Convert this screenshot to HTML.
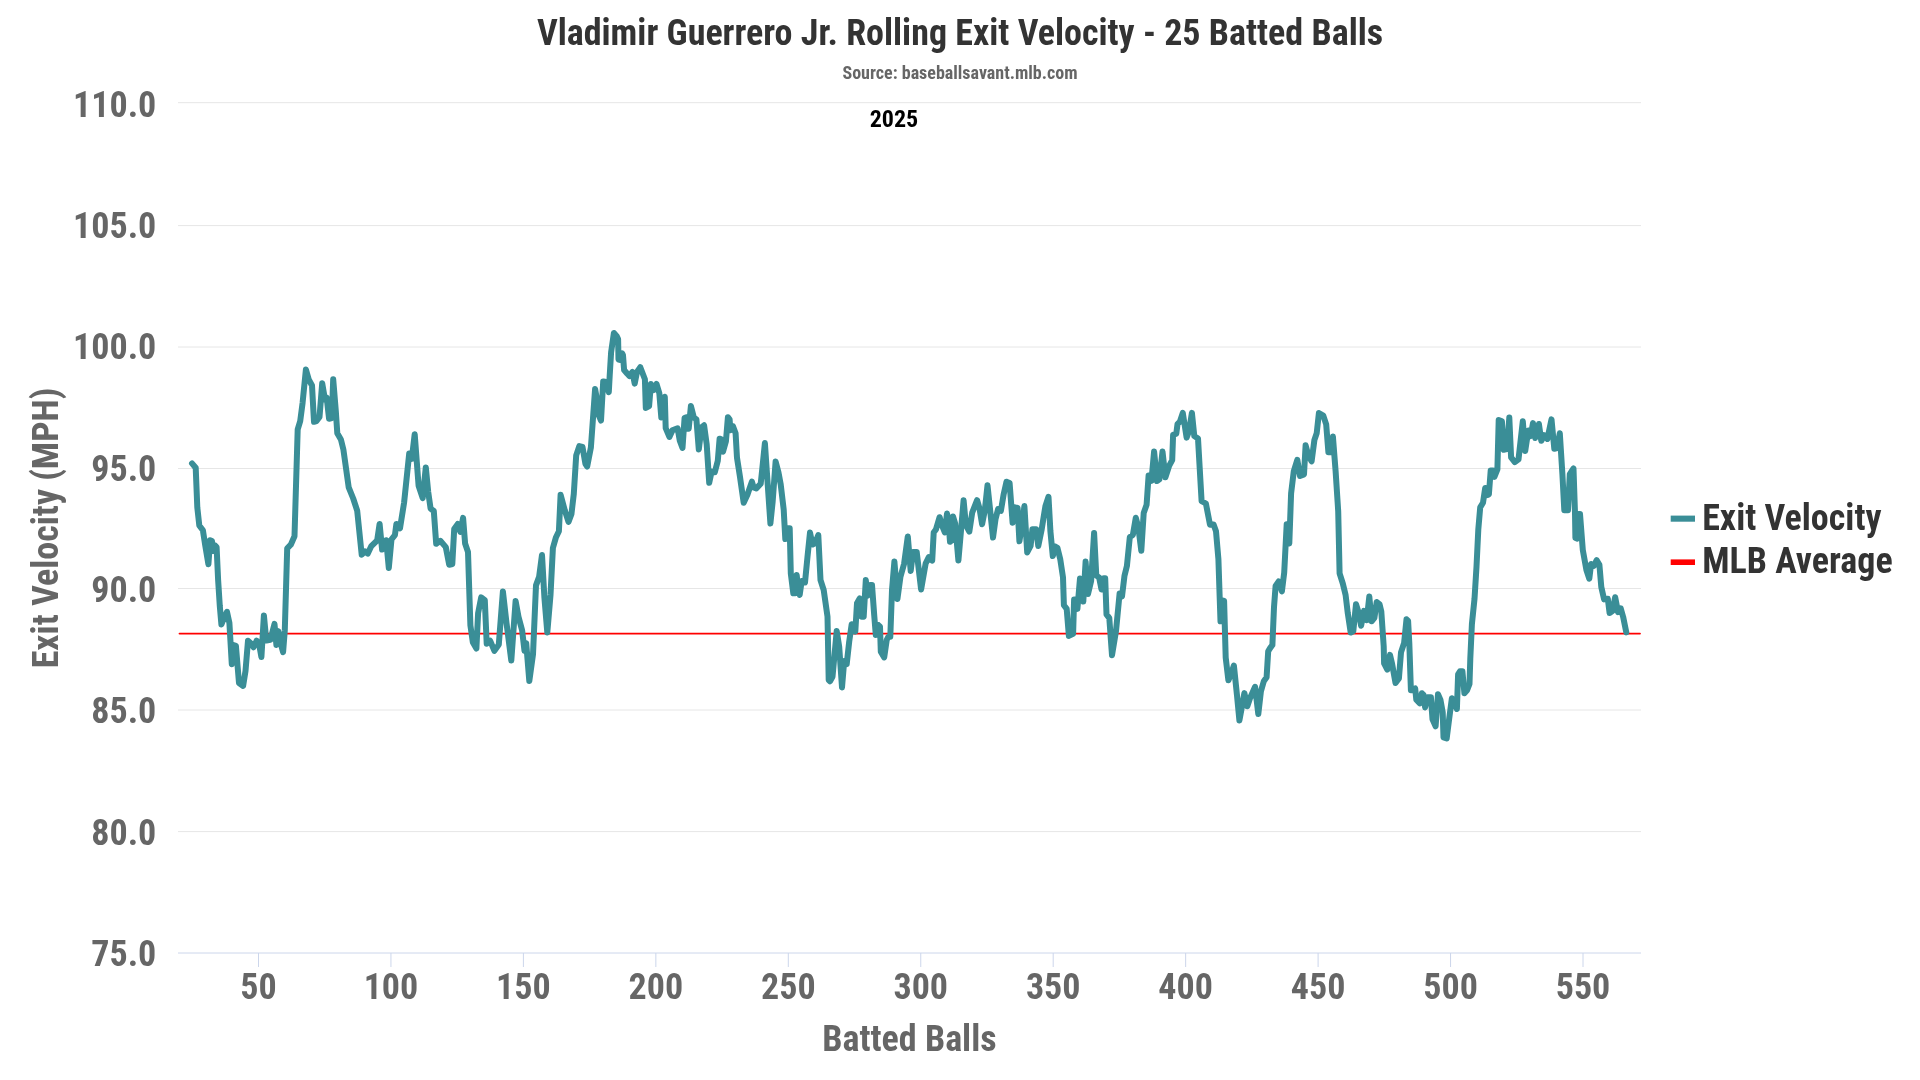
<!DOCTYPE html>
<html><head><meta charset="utf-8"><title>Vladimir Guerrero Jr. Rolling Exit Velocity</title>
<style>
html,body{margin:0;padding:0;background:#fff;}
body{width:1920px;height:1080px;overflow:hidden;}
svg{display:block;will-change:transform;}
text{font-family:'Roboto Condensed', 'Liberation Sans Narrow', 'Liberation Sans', 'DejaVu Sans Condensed', sans-serif;font-weight:700;}
.title{font-size:36px;fill:#333333;}
.sub{font-size:18px;fill:#666666;}
.yr{font-size:24px;fill:#000000;}
.yl{font-size:36px;fill:#666666;}
.xl{font-size:36px;fill:#666666;}
.axt{font-size:36px;fill:#666666;}
.leg{font-size:36px;fill:#333333;}
</style></head>
<body>
<svg width="1920" height="1080" viewBox="0 0 1920 1080">
<rect width="1920" height="1080" fill="#ffffff"/>
<path d="M 178.0 102.7 L 1641.0 102.7" stroke="#e6e6e6" stroke-width="1"/>
<path d="M 178.0 225.6 L 1641.0 225.6" stroke="#e6e6e6" stroke-width="1"/>
<path d="M 178.0 347.0 L 1641.0 347.0" stroke="#e6e6e6" stroke-width="1"/>
<path d="M 178.0 468.5 L 1641.0 468.5" stroke="#e6e6e6" stroke-width="1"/>
<path d="M 178.0 588.5 L 1641.0 588.5" stroke="#e6e6e6" stroke-width="1"/>
<path d="M 178.0 710.0 L 1641.0 710.0" stroke="#e6e6e6" stroke-width="1"/>
<path d="M 178.0 831.6 L 1641.0 831.6" stroke="#e6e6e6" stroke-width="1"/>
<text x="156.3" y="116.7" text-anchor="end" class="yl">110.0</text>
<text x="156.3" y="238.0" text-anchor="end" class="yl">105.0</text>
<text x="156.3" y="359.3" text-anchor="end" class="yl">100.0</text>
<text x="156.3" y="480.6" text-anchor="end" class="yl">95.0</text>
<text x="156.3" y="601.9" text-anchor="end" class="yl">90.0</text>
<text x="156.3" y="723.2" text-anchor="end" class="yl">85.0</text>
<text x="156.3" y="844.6" text-anchor="end" class="yl">80.0</text>
<text x="156.3" y="965.9" text-anchor="end" class="yl">75.0</text>
<path d="M 178.0 953 L 1641.0 953" stroke="#ccd6eb" stroke-width="1"/>
<path d="M 258.5 953 L 258.5 967" stroke="#ccd6eb" stroke-width="1"/>
<text x="258.5" y="999" text-anchor="middle" class="xl">50</text>
<path d="M 390.95 953 L 390.95 967" stroke="#ccd6eb" stroke-width="1"/>
<text x="390.95" y="999" text-anchor="middle" class="xl">100</text>
<path d="M 523.4 953 L 523.4 967" stroke="#ccd6eb" stroke-width="1"/>
<text x="523.4" y="999" text-anchor="middle" class="xl">150</text>
<path d="M 655.85 953 L 655.85 967" stroke="#ccd6eb" stroke-width="1"/>
<text x="655.85" y="999" text-anchor="middle" class="xl">200</text>
<path d="M 788.3 953 L 788.3 967" stroke="#ccd6eb" stroke-width="1"/>
<text x="788.3" y="999" text-anchor="middle" class="xl">250</text>
<path d="M 920.75 953 L 920.75 967" stroke="#ccd6eb" stroke-width="1"/>
<text x="920.75" y="999" text-anchor="middle" class="xl">300</text>
<path d="M 1053.2 953 L 1053.2 967" stroke="#ccd6eb" stroke-width="1"/>
<text x="1053.2" y="999" text-anchor="middle" class="xl">350</text>
<path d="M 1185.65 953 L 1185.65 967" stroke="#ccd6eb" stroke-width="1"/>
<text x="1185.65" y="999" text-anchor="middle" class="xl">400</text>
<path d="M 1318.1 953 L 1318.1 967" stroke="#ccd6eb" stroke-width="1"/>
<text x="1318.1" y="999" text-anchor="middle" class="xl">450</text>
<path d="M 1450.55 953 L 1450.55 967" stroke="#ccd6eb" stroke-width="1"/>
<text x="1450.55" y="999" text-anchor="middle" class="xl">500</text>
<path d="M 1583.0 953 L 1583.0 967" stroke="#ccd6eb" stroke-width="1"/>
<text x="1583.0" y="999" text-anchor="middle" class="xl">550</text>
<path d="M 179.5 633.6 L 1640 633.6" stroke="#ff0000" stroke-width="1.8" stroke-linecap="round"/>
<path d="M 192.0 463.4 L 195.7 467.7 L 197.3 507.4 L 199.3 525.5 L 202.9 530.3 L 205.3 545.9 L 208.4 564.3 L 210.1 540.3 L 212.0 541.1 L 213.3 551.0 L 214.9 545.4 L 216.6 547.1 L 218.1 579.6 L 219.8 606.1 L 221.4 624.5 L 223.4 619.3 L 227.0 611.8 L 229.4 623.0 L 231.8 664.2 L 233.5 645.0 L 235.9 645.8 L 239.0 683.1 L 243.1 685.9 L 245.5 671.1 L 248.0 640.7 L 251.1 643.4 L 253.5 647.3 L 256.6 640.7 L 259.0 643.4 L 261.4 657.0 L 263.9 615.4 L 266.3 640.6 L 270.4 639.8 L 274.5 623.9 L 276.4 644.9 L 278.3 631.1 L 280.7 643.4 L 283.1 652.1 L 284.8 630.2 L 287.2 548.3 L 290.8 544.7 L 294.5 536.2 L 297.7 429.3 L 300.2 421.1 L 302.6 402.8 L 305.9 369.5 L 308.7 379.4 L 312.0 385.5 L 314.0 421.8 L 316.5 421.1 L 319.5 417.0 L 322.2 383.3 L 325.0 399.8 L 326.7 397.6 L 329.1 418.8 L 331.8 418.1 L 333.2 379.2 L 335.8 410.9 L 337.3 433.3 L 340.9 439.4 L 343.4 449.6 L 348.7 487.3 L 353.2 498.5 L 357.2 510.7 L 361.7 554.7 L 365.0 551.4 L 367.8 553.6 L 371.1 546.4 L 377.2 540.3 L 379.6 523.9 L 382.1 549.6 L 384.1 547.4 L 386.2 540.2 L 388.8 567.9 L 391.5 539.3 L 394.9 535.2 L 396.4 523.9 L 400.0 528.2 L 404.1 502.6 L 409.2 453.6 L 411.8 458.9 L 414.7 434.2 L 418.6 485.7 L 422.7 498.1 L 425.8 467.4 L 428.2 491.8 L 430.6 508.6 L 433.8 511.0 L 436.2 543.8 L 440.3 540.8 L 445.8 547.1 L 449.2 564.8 L 452.3 564.0 L 454.2 529.1 L 457.8 524.0 L 460.3 531.8 L 463.1 517.9 L 465.1 543.5 L 468.0 551.9 L 470.4 625.4 L 472.8 642.2 L 476.4 648.5 L 478.1 613.3 L 481.2 597.4 L 484.8 600.1 L 486.7 643.7 L 490.1 640.7 L 494.4 650.9 L 498.8 644.6 L 502.9 591.4 L 506.5 623.0 L 511.3 660.6 L 515.6 601.0 L 518.5 616.9 L 522.1 630.2 L 524.5 650.9 L 526.2 643.1 L 529.3 681.0 L 533.0 654.3 L 536.0 585.4 L 539.1 576.9 L 542.0 555.0 L 544.4 597.4 L 547.3 632.6 L 550.5 595.0 L 552.9 548.0 L 556.0 537.2 L 558.9 531.2 L 560.6 494.8 L 564.9 510.7 L 568.5 521.9 L 571.4 514.3 L 573.8 493.9 L 576.2 455.4 L 579.3 446.1 L 582.5 446.9 L 585.4 463.8 L 587.2 466.5 L 590.9 447.4 L 595.1 389.0 L 597.6 403.0 L 598.6 414.8 L 601.0 420.6 L 603.2 381.4 L 606.0 382.0 L 608.8 392.2 L 609.7 375.6 L 611.1 352.4 L 613.9 332.9 L 616.7 336.2 L 618.1 339.0 L 618.5 359.5 L 619.9 359.9 L 622.2 353.3 L 623.0 355.2 L 624.1 370.0 L 627.3 373.7 L 629.6 376.1 L 632.4 371.9 L 634.7 383.6 L 637.0 371.9 L 640.3 367.2 L 644.9 379.3 L 645.8 407.9 L 649.1 406.1 L 650.9 383.9 L 653.7 390.1 L 656.5 383.9 L 659.3 393.1 L 661.3 417.6 L 664.8 396.8 L 665.7 428.1 L 669.4 436.9 L 672.4 430.4 L 677.6 428.3 L 679.8 440.7 L 682.5 448.0 L 684.6 417.8 L 686.9 417.2 L 688.7 428.7 L 690.9 406.1 L 693.9 417.8 L 696.4 419.3 L 698.8 449.5 L 701.5 427.4 L 704.1 425.3 L 706.7 444.4 L 709.2 482.8 L 711.6 471.6 L 714.8 472.2 L 717.8 460.7 L 719.6 438.7 L 721.5 439.3 L 723.0 451.7 L 725.9 441.5 L 727.9 417.2 L 729.6 419.3 L 730.4 430.2 L 732.9 426.1 L 735.6 433.3 L 737.0 457.8 L 740.0 477.0 L 743.7 502.8 L 747.4 494.8 L 751.9 481.6 L 753.6 487.4 L 756.3 488.4 L 760.7 483.7 L 762.2 469.6 L 764.9 443.1 L 766.7 469.6 L 770.4 523.5 L 772.6 502.2 L 775.6 461.6 L 778.5 472.6 L 780.7 484.4 L 783.7 509.6 L 785.3 539.1 L 787.5 528.3 L 789.7 528.3 L 790.8 573.3 L 793.3 593.3 L 795.3 593.3 L 796.7 575.1 L 798.3 590.0 L 799.7 594.9 L 801.7 580.9 L 805.0 582.4 L 807.5 556.7 L 810.0 532.6 L 812.5 544.5 L 815.0 543.3 L 818.3 535.1 L 820.5 580.0 L 823.7 590.0 L 827.5 616.7 L 828.7 680.0 L 830.0 681.2 L 832.5 676.7 L 836.7 630.9 L 839.2 646.7 L 842.0 687.4 L 844.2 660.9 L 846.7 664.1 L 849.2 641.7 L 851.7 624.2 L 854.2 626.7 L 855.3 631.6 L 857.0 603.3 L 859.7 598.4 L 861.7 616.7 L 863.7 616.7 L 865.8 580.1 L 867.5 595.8 L 870.0 585.0 L 872.0 585.0 L 874.2 615.0 L 875.8 634.9 L 878.3 625.0 L 880.0 626.7 L 880.8 651.7 L 884.2 657.4 L 886.7 640.0 L 888.3 636.7 L 890.3 636.7 L 892.0 590.0 L 894.4 561.6 L 897.4 599.1 L 900.4 577.0 L 904.1 563.7 L 907.8 536.5 L 910.7 571.0 L 913.0 551.9 L 916.7 551.9 L 921.1 589.5 L 925.6 563.7 L 928.8 557.2 L 932.2 560.6 L 933.7 532.6 L 935.9 529.6 L 939.6 517.2 L 941.9 525.2 L 944.8 532.4 L 947.0 513.5 L 948.5 522.2 L 950.0 541.8 L 951.5 540.7 L 953.0 516.5 L 955.2 523.7 L 958.4 560.6 L 961.1 529.6 L 963.6 500.2 L 965.9 525.2 L 969.3 531.7 L 972.2 512.6 L 977.1 500.2 L 979.6 508.9 L 982.1 524.3 L 984.8 510.4 L 987.5 485.3 L 990.0 508.9 L 993.0 537.6 L 995.5 519.3 L 998.1 509.0 L 1000.9 510.8 L 1003.7 494.1 L 1006.5 481.7 L 1009.6 483.0 L 1012.6 522.8 L 1014.8 507.3 L 1017.6 508.0 L 1019.4 541.3 L 1021.9 525.6 L 1024.4 506.1 L 1027.2 552.4 L 1030.6 545.9 L 1032.4 529.3 L 1036.1 529.3 L 1038.3 546.0 L 1041.7 529.3 L 1045.4 506.1 L 1048.5 496.8 L 1050.4 531.1 L 1052.8 556.1 L 1055.2 546.5 L 1057.4 547.8 L 1060.2 558.9 L 1063.0 577.4 L 1063.9 605.2 L 1066.7 608.9 L 1068.9 635.9 L 1073.1 633.9 L 1074.1 599.6 L 1075.6 599.6 L 1077.4 608.9 L 1080.0 578.6 L 1081.9 579.3 L 1083.3 601.5 L 1085.6 561.6 L 1088.0 594.1 L 1091.1 581.1 L 1094.1 532.9 L 1096.3 575.6 L 1099.1 577.4 L 1101.5 589.5 L 1103.7 578.3 L 1105.2 578.3 L 1106.5 614.4 L 1109.3 618.1 L 1112.0 655.2 L 1116.0 631.1 L 1119.6 593.5 L 1122.0 596.5 L 1124.5 575.7 L 1126.9 566.1 L 1129.8 537.2 L 1132.9 534.8 L 1135.8 517.7 L 1138.4 527.6 L 1141.3 550.8 L 1143.7 513.1 L 1146.6 504.7 L 1148.6 475.5 L 1151.4 480.9 L 1154.1 451.5 L 1157.0 481.1 L 1159.4 479.4 L 1162.5 451.5 L 1165.4 477.3 L 1169.0 466.2 L 1172.2 460.2 L 1173.1 434.9 L 1176.3 433.7 L 1177.5 424.1 L 1179.9 421.7 L 1182.8 412.9 L 1186.6 437.6 L 1189.0 431.3 L 1191.9 412.9 L 1194.3 436.1 L 1198.0 438.5 L 1201.6 501.1 L 1205.9 503.5 L 1210.0 524.8 L 1213.6 524.4 L 1216.0 531.2 L 1218.4 558.9 L 1219.7 597.8 L 1220.5 621.3 L 1222.1 600.3 L 1224.1 600.9 L 1225.7 657.6 L 1228.4 680.3 L 1230.7 674.9 L 1233.9 665.6 L 1237.0 695.4 L 1239.4 720.4 L 1241.7 708.0 L 1244.4 693.1 L 1247.3 706.3 L 1249.9 698.5 L 1255.1 686.8 L 1258.3 714.1 L 1260.9 691.4 L 1263.8 681.2 L 1266.6 677.3 L 1268.2 651.3 L 1270.1 648.1 L 1272.4 645.0 L 1274.0 607.2 L 1275.6 586.0 L 1278.7 581.4 L 1281.9 591.4 L 1284.2 572.6 L 1286.7 524.2 L 1289.3 543.5 L 1291.1 493.3 L 1293.8 471.1 L 1297.3 459.8 L 1300.0 476.0 L 1304.0 474.4 L 1305.6 445.3 L 1308.4 455.6 L 1311.6 461.3 L 1314.4 440.0 L 1316.7 433.3 L 1318.9 413.1 L 1323.3 415.6 L 1326.2 424.4 L 1328.4 452.2 L 1331.1 452.2 L 1332.9 436.5 L 1335.6 471.1 L 1338.2 511.1 L 1339.6 573.3 L 1342.8 583.5 L 1345.6 595.0 L 1347.8 613.3 L 1350.7 632.6 L 1353.3 631.1 L 1356.0 604.2 L 1358.9 613.3 L 1361.1 625.8 L 1364.0 610.9 L 1366.7 620.2 L 1369.3 596.5 L 1371.6 621.3 L 1374.4 617.8 L 1376.7 602.0 L 1379.6 604.4 L 1381.3 611.5 L 1383.7 646.1 L 1384.1 663.4 L 1387.3 669.6 L 1390.0 654.9 L 1392.0 663.4 L 1395.5 683.0 L 1398.9 678.4 L 1401.0 652.4 L 1404.1 643.0 L 1406.5 619.3 L 1408.1 620.9 L 1409.3 643.0 L 1410.9 690.2 L 1412.8 690.2 L 1415.2 688.5 L 1416.3 699.6 L 1419.9 703.4 L 1421.9 693.2 L 1423.5 694.9 L 1425.1 707.4 L 1427.3 697.3 L 1430.9 697.3 L 1432.5 719.3 L 1435.6 726.3 L 1438.0 694.2 L 1440.4 699.6 L 1442.7 712.2 L 1443.5 737.4 L 1446.7 738.5 L 1449.0 720.1 L 1451.9 698.2 L 1453.7 701.2 L 1456.9 709.0 L 1458.1 674.4 L 1460.0 671.3 L 1462.4 671.3 L 1464.4 693.2 L 1467.1 690.2 L 1469.5 683.9 L 1470.3 658.7 L 1471.9 624.1 L 1474.5 598.9 L 1476.5 566.7 L 1478.3 529.6 L 1480.2 507.4 L 1483.0 502.8 L 1485.2 487.9 L 1487.0 495.1 L 1488.9 494.4 L 1490.7 470.4 L 1493.1 470.4 L 1494.4 476.9 L 1497.4 469.4 L 1498.7 420.0 L 1501.9 421.3 L 1503.7 449.7 L 1507.0 449.1 L 1509.3 417.6 L 1511.1 457.4 L 1514.8 462.1 L 1518.5 459.3 L 1522.8 421.3 L 1525.2 451.0 L 1528.3 430.5 L 1530.7 436.1 L 1533.0 423.1 L 1535.2 438.0 L 1538.9 424.0 L 1541.3 440.8 L 1544.1 435.2 L 1547.4 438.9 L 1551.5 419.4 L 1554.3 448.8 L 1557.0 448.1 L 1559.8 433.3 L 1562.4 474.1 L 1564.3 510.2 L 1568.0 510.2 L 1569.8 474.1 L 1573.5 468.5 L 1575.0 513.0 L 1575.4 538.0 L 1577.2 538.6 L 1578.7 513.9 L 1580.0 513.9 L 1582.8 550.0 L 1586.5 570.4 L 1589.3 578.7 L 1591.1 563.9 L 1593.9 565.8 L 1596.7 560.2 L 1599.4 564.8 L 1601.3 587.0 L 1604.1 599.4 L 1607.8 598.7 L 1609.6 613.1 L 1612.4 611.1 L 1615.2 597.2 L 1618.0 612.1 L 1620.7 608.3 L 1623.1 616.7 L 1626.3 632.4" fill="none" stroke="#3a8e97" stroke-width="6" stroke-linejoin="round" stroke-linecap="round"/>
<text x="960" y="44.8" text-anchor="middle" class="title">Vladimir Guerrero Jr. Rolling Exit Velocity - 25 Batted Balls</text>
<text x="960" y="79.4" text-anchor="middle" class="sub">Source: baseballsavant.mlb.com</text>
<text x="894" y="126.7" text-anchor="middle" class="yr">2025</text>
<text x="909.5" y="1050.7" text-anchor="middle" class="axt">Batted Balls</text>
<text transform="translate(57.5 528) rotate(-90)" text-anchor="middle" class="axt">Exit Velocity (MPH)</text>
<rect x="1670.7" y="515.6" width="24.3" height="6.1" fill="#3a8e97"/>
<text x="1702.2" y="529.6" class="leg">Exit Velocity</text>
<rect x="1670.7" y="559.4" width="24.3" height="5.6" fill="#ff0000"/>
<text x="1702.2" y="572.9" class="leg">MLB Average</text>
</svg>
</body></html>
